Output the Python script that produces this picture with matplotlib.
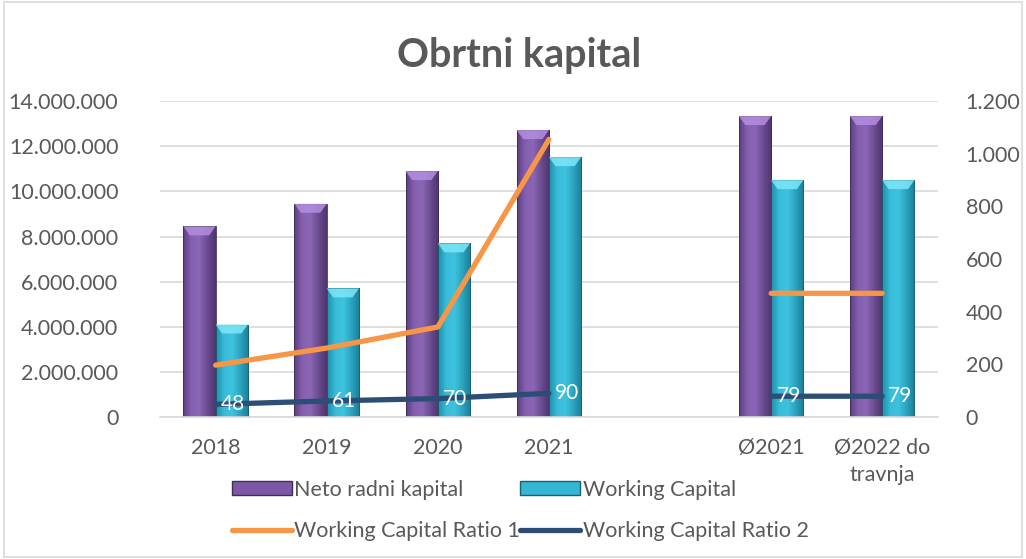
import numpy as np
import matplotlib.pyplot as plt
from matplotlib.patches import Patch, Rectangle, Polygon
from matplotlib.lines import Line2D
from matplotlib.ticker import FuncFormatter, MultipleLocator
from matplotlib.colors import LinearSegmentedColormap

plt.rcParams['font.family'] = ['Lato', 'DejaVu Sans']

categories = ['2018', '2019', '2020', '2021', '', 'Ø2021', 'Ø2022 do\ntravnja']
neto_radni = [8.45e6, 9.45e6, 10.9e6, 12.72e6, np.nan, 13.34e6, 13.34e6]
working_cap = [4.1e6, 5.7e6, 7.7e6, 11.52e6, np.nan, 10.5e6, 10.5e6]
ratio1 = [197, 262, 342, 1055, np.nan, 470, 470]
ratio2 = [48, 61, 70, 90, np.nan, 79, 79]

TXT = '#595959'
GRID = '#d9d9d9'
FS = 15.5

fig = plt.figure(figsize=(10.26, 5.59), dpi=100)
fig.patches.append(Rectangle((0.004, 0.004), 0.992, 0.992, transform=fig.transFigure,
                             fill=False, edgecolor=GRID, lw=1.2))
ax = fig.add_axes([0.156, 0.254, 0.758, 0.565])
ax2 = ax.twinx()

x = np.arange(len(categories))
w = 0.29
bars1 = ax.bar(x - w / 2, neto_radni, w, color='#7d57a6', zorder=2)
bars2 = ax.bar(x + w / 2, working_cap, w, color='#35b6d4', zorder=2)

ax.set_xlim(-0.5, len(categories) - 0.5)
ax.set_ylim(0, 14e6)
ax2.set_ylim(0, 1200)

# shaded "cylinder" look for bars
cmaps = {
    'p': LinearSegmentedColormap.from_list('p', ['#5e3f82', '#8560b0', '#8a66b5', '#6a4b90', '#4f356d']),
    'c': LinearSegmentedColormap.from_list('c', ['#1f8fa8', '#38bcd9', '#3ec3df', '#2aa3bf', '#1a7f96']),
}
tops = {'p': '#b48ee0', 'c': '#7fe6f8'}
grad = np.linspace(0, 1, 64).reshape(1, -1)
cap_h = 14e6 * 9 / 316
for bars, key in ((bars1, 'p'), (bars2, 'c')):
    for b in bars:
        h = b.get_height()
        if not np.isfinite(h) or h <= 0:
            continue
        x0, bw = b.get_x(), b.get_width()
        b.set_facecolor('none')
        b.set_edgecolor('#3d2f52' if key == 'p' else '#1b5f70')
        b.set_linewidth(0.6)
        im = ax.imshow(grad, extent=[x0, x0 + bw, 0, h], aspect='auto',
                       cmap=cmaps[key], zorder=1.9)
        im.set_clip_path(b)
        cap = Polygon([[x0, h], [x0 + bw, h], [x0 + bw * 0.8, h - cap_h], [x0 + bw * 0.2, h - cap_h]],
                      closed=True, facecolor=tops[key], edgecolor='none', alpha=0.85, zorder=2.1)
        ax.add_patch(cap)

ax.set_xlim(-0.5, len(categories) - 0.5)
ax.set_ylim(0, 14e6)

ax2.plot(x, ratio1, color='#f79646', lw=3.8, solid_capstyle='round', zorder=3)
ax2.plot(x, ratio2, color='#2c4d75', lw=3.8, solid_capstyle='round', zorder=3)
for xi, v in zip(x, ratio2):
    if np.isfinite(v):
        ax2.annotate(f'{v:g}', (xi, v), xytext=(4, 0), textcoords='offset points',
                     ha='left', va='center', color='white', fontsize=15)

fmt = FuncFormatter(lambda v, p: f'{int(round(v)):,}'.replace(',', '.'))
ax.yaxis.set_major_locator(MultipleLocator(2e6))
ax.yaxis.set_major_formatter(fmt)
ax2.yaxis.set_major_locator(MultipleLocator(200))
ax2.yaxis.set_major_formatter(fmt)
ax.set_xticks(x)
ax.set_xticklabels(categories, linespacing=1.45)

ax.grid(axis='y', color=GRID, lw=1.2, zorder=0)
ax.set_axisbelow(True)
for a in (ax, ax2):
    for s in a.spines.values():
        s.set_visible(False)
    a.tick_params(length=0, labelsize=FS, colors=TXT)
ax.spines['bottom'].set_visible(True)
ax.spines['bottom'].set_color(GRID)
ax.spines['bottom'].set_linewidth(1.2)
ax.tick_params(axis='y', pad=30)
ax2.tick_params(axis='y', pad=20)
ax.tick_params(axis='x', pad=15)

fig.text(0.506, 0.9, 'Obrtni kapital', ha='center', va='center',
         fontsize=28.5, fontweight='bold', color=TXT)

handles = [Patch(facecolor='#7d57a6', edgecolor='#3d2f52'),
           Line2D([], [], color='#f79646', lw=3.8, solid_capstyle='round'),
           Patch(facecolor='#35b6d4', edgecolor='#1b5f70'),
           Line2D([], [], color='#2c4d75', lw=3.8, solid_capstyle='round')]
labels = ['Neto radni kapital', 'Working Capital Ratio 1',
          'Working Capital', 'Working Capital Ratio 2']
fig.legend(handles, labels, ncol=2, loc='center', bbox_to_anchor=(0.507, 0.087),
           frameon=False, fontsize=FS, labelcolor=TXT, handlelength=2.8,
           handleheight=0.6, handletextpad=0.1, columnspacing=0.0, labelspacing=1.0)

fig.savefig('out.png', dpi=100)
